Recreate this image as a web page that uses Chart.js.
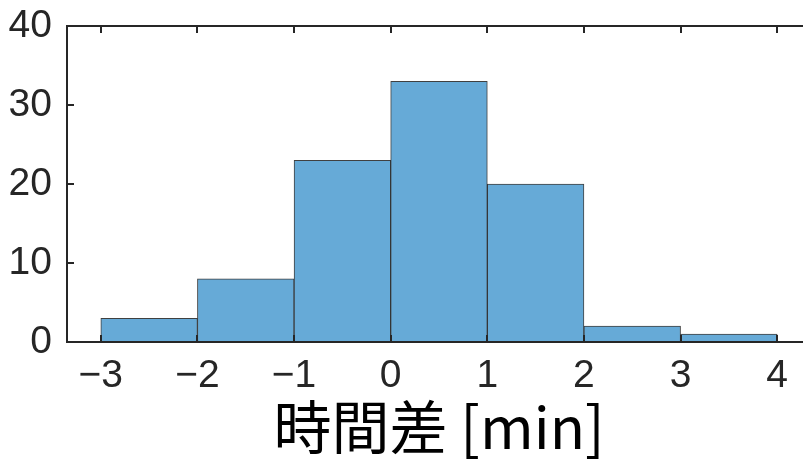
<!DOCTYPE html>
<html>
<head>
<meta charset="utf-8">
<script src="https://cdn.jsdelivr.net/npm/chart.js@4"></script>
<style>
  html, body { margin: 0; padding: 0; background: #fff; overflow: hidden; }
  #wrap { width: 803px; height: 462px; overflow: hidden; }
</style>
</head>
<body>
<div id="wrap"><canvas id="c" width="820" height="462"></canvas></div>
<script>
// Histogram of time differences (bin width 1 min)
const binCenters = [-2.5, -1.5, -0.5, 0.5, 1.5, 2.5, 3.5];
const counts = [3, 8, 23, 33, 20, 2, 1];
const xTicks = [-3, -2, -1, 0, 1, 2, 3, 4];
const yTicks = [0, 10, 20, 30, 40];
const xLabel = '時間差 [min]';

const ink = '#262626';
const tickFont = '"Liberation Sans", Arial, sans-serif';
const titleFont = '"Noto Sans CJK JP", "Noto Sans", sans-serif';

// Box frame with inward tick marks on all four sides
const boxFrame = {
  id: 'boxFrame',
  afterDatasetsDraw(chart) {
    const { ctx, chartArea: a, scales } = chart;
    const len = 7;
    ctx.save();
    ctx.strokeStyle = ink;
    ctx.lineWidth = 2;
    ctx.beginPath();
    ctx.rect(a.left, a.top, a.right - a.left, a.bottom - a.top);
    ctx.stroke();
    ctx.beginPath();
    for (const t of xTicks) {
      const px = Math.round(scales.x.getPixelForValue(t));
      ctx.moveTo(px, a.bottom); ctx.lineTo(px, a.bottom - len);
      ctx.moveTo(px, a.top); ctx.lineTo(px, a.top + len);
    }
    for (const t of yTicks) {
      const py = Math.round(scales.y.getPixelForValue(t));
      ctx.moveTo(a.left, py); ctx.lineTo(a.left + len, py);
      ctx.moveTo(a.right, py); ctx.lineTo(a.right - len, py);
    }
    ctx.stroke();
    ctx.restore();
  }
};

new Chart(document.getElementById('c'), {
  type: 'bar',
  data: {
    datasets: [{
      data: binCenters.map((x, i) => ({ x, y: counts[i] })),
      backgroundColor: 'rgb(102,170,215)',
      borderColor: 'rgba(30,30,30,0.85)',
      borderWidth: 1,
      barPercentage: 1,
      categoryPercentage: 1,
      borderSkipped: false
    }]
  },
  options: {
    responsive: false,
    animation: false,
    layout: { padding: { left: 0, right: 9, top: 26, bottom: 0 } },
    plugins: { legend: { display: false }, tooltip: { enabled: false } },
    scales: {
      x: {
        type: 'linear',
        offset: false,
        min: -3.35,
        max: 4.35,
        afterBuildTicks: s => { s.ticks = xTicks.map(v => ({ value: v })); },
        afterFit: s => { s.height = 120; s.paddingLeft = 0; s.paddingRight = 0; },
        grid: { display: false },
        border: { display: false },
        ticks: {
          color: ink,
          font: { family: tickFont, size: 39 },
          padding: 3,
          maxRotation: 0,
          autoSkip: false,
          callback: v => (v < 0 ? '\u2212' + Math.abs(v) : String(v))
        },
        title: {
          display: true,
          text: xLabel,
          color: '#000',
          font: { family: titleFont, size: 58 },
          padding: { top: 0, bottom: 0 }
        }
      },
      y: {
        min: 0,
        max: 40,
        afterBuildTicks: s => { s.ticks = yTicks.map(v => ({ value: v })); },
        afterFit: s => { s.width = 67; s.paddingTop = 0; s.paddingBottom = 0; },
        grid: { display: false },
        border: { display: false },
        ticks: {
          color: ink,
          font: { family: tickFont, size: 39 },
          padding: 7
        }
      }
    }
  },
  plugins: [boxFrame]
});
</script>
</body>
</html>
